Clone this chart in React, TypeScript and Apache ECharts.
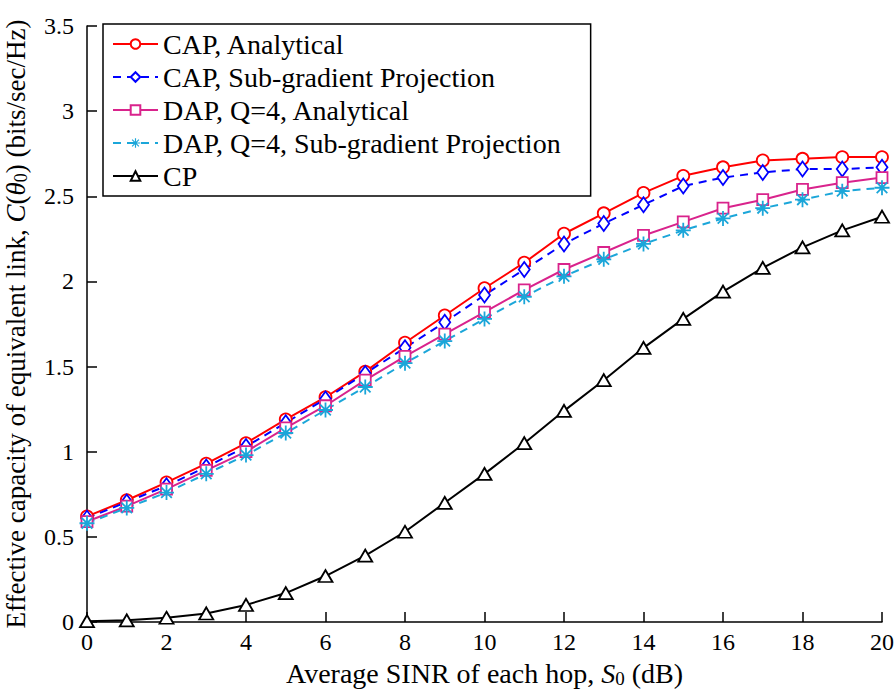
import React, { useEffect, useRef } from "react";
import * as echarts from "echarts";

const snr = [0, 1, 2, 3, 4, 5, 6, 7, 8, 9, 10, 11, 12, 13, 14, 15, 16, 17, 18, 19, 20];
const capAnalytical = [0.62, 0.715, 0.82, 0.93, 1.05, 1.19, 1.32, 1.47, 1.64, 1.80, 1.96, 2.11, 2.28, 2.40, 2.52, 2.62, 2.67, 2.71, 2.72, 2.73, 2.73];
const capSubgradient = [0.61, 0.705, 0.80, 0.91, 1.03, 1.17, 1.31, 1.46, 1.61, 1.76, 1.92, 2.07, 2.22, 2.34, 2.45, 2.56, 2.61, 2.64, 2.66, 2.66, 2.67];
const dapAnalytical = [0.59, 0.68, 0.78, 0.89, 1.00, 1.14, 1.27, 1.42, 1.56, 1.69, 1.82, 1.95, 2.07, 2.17, 2.27, 2.35, 2.43, 2.48, 2.54, 2.58, 2.61];
const dapSubgradient = [0.58, 0.67, 0.76, 0.87, 0.98, 1.11, 1.245, 1.38, 1.52, 1.65, 1.78, 1.91, 2.03, 2.13, 2.22, 2.30, 2.37, 2.43, 2.48, 2.53, 2.55];
const cp = [0.005, 0.01, 0.025, 0.05, 0.10, 0.17, 0.27, 0.39, 0.53, 0.70, 0.87, 1.05, 1.24, 1.42, 1.61, 1.78, 1.94, 2.08, 2.20, 2.30, 2.38];

const seriesNames = [
  "CAP, Analytical",
  "CAP, Sub-gradient Projection",
  "DAP, Q=4, Analytical",
  "DAP, Q=4, Sub-gradient Projection",
  "CP",
];

const FONT = "Liberation Serif";
const ASTERISK =
  "path://M8.8,0 L11.2,0 L11.2,20 L8.8,20 Z M20,8.8 L20,11.2 L0,11.2 L0,8.8 Z " +
  "M3.78,2.08 L17.92,16.22 L16.22,17.92 L2.08,3.78 Z M2.08,16.22 L16.22,2.08 L17.92,3.78 L3.78,17.92 Z";

const pairs = (ys: number[]) => snr.map((x, i) => [x, ys[i]]);

export default function App() {
  const ref = useRef<HTMLDivElement>(null);
  useEffect(() => {
    if (!ref.current) return;
    const chart = echarts.init(ref.current, undefined, { renderer: "svg" });
    const mk = (
      name: string,
      data: number[],
      color: string,
      dashed: boolean,
      symbol: string,
      symbolSize: number | number[],
      filled = false
    ) => ({
      name,
      type: "line",
      data: pairs(data),
      symbol,
      symbolSize,
      showAllSymbol: true,
      lineStyle: { color, width: 2, type: dashed ? [8, 6] : "solid" },
      itemStyle: filled
        ? { color, borderWidth: 0 }
        : { color: "#ffffff", borderColor: color, borderWidth: 1.8 },
      emphasis: { disabled: true },
    });
    const nameStyle = (size: number) => ({
      fontFamily: FONT,
      fontSize: size,
      color: "#000000",
      rich: {
        i: { fontFamily: FONT, fontSize: size, fontStyle: "italic", color: "#000000" },
        s: { fontFamily: FONT, fontSize: Math.round(size * 0.68), color: "#000000", padding: [10, 0, 0, 0] },
      },
    });
    chart.setOption({
      animation: false,
      backgroundColor: "#ffffff",
      textStyle: { fontFamily: FONT },
      grid: { left: 87, right: 13, top: 26, bottom: 71, containLabel: false, outerBoundsMode: "none" },
      legend: {
        orient: "vertical",
        left: 103,
        top: 24,
        itemWidth: 45,
        itemHeight: 12,
        itemGap: 5,
        padding: [6, 30, 6, 9],
        borderColor: "#000000",
        borderWidth: 1.5,
        backgroundColor: "#ffffff",
        textStyle: { fontFamily: FONT, fontSize: 28, color: "#000000" },
        data: seriesNames,
      },
      xAxis: {
        type: "value",
        min: 0,
        max: 20,
        interval: 2,
        name: "Average SINR of each hop, {i|S}{s|0} (dB)",
        nameLocation: "middle",
        nameGap: 37,
        nameTextStyle: nameStyle(28),
        axisLine: { lineStyle: { color: "#000000", width: 1.5 } },
        axisTick: { inside: true, length: 10, lineStyle: { color: "#000000", width: 1.5 } },
        axisLabel: { fontFamily: FONT, fontSize: 24, color: "#000000", margin: 8 },
        splitLine: { show: false },
      },
      yAxis: {
        type: "value",
        min: 0,
        max: 3.5,
        interval: 0.5,
        name: "Effective capacity of equivalent link, {i|C}({i|θ}{s|0}) (bits/sec/Hz)",
        nameLocation: "middle",
        nameGap: 57,
        nameTextStyle: nameStyle(27),
        axisLine: { show: true, lineStyle: { color: "#000000", width: 1.5 } },
        axisTick: { show: true, inside: true, length: 10, lineStyle: { color: "#000000", width: 1.5 } },
        axisLabel: { fontFamily: FONT, fontSize: 24, color: "#000000", margin: 13 },
        splitLine: { show: false },
      },
      series: [
        mk(seriesNames[0], capAnalytical, "#ff0000", false, "circle", 12),
        mk(seriesNames[1], capSubgradient, "#0000ff", true, "diamond", [11, 15]),
        mk(seriesNames[2], dapAnalytical, "#d9238c", false, "rect", 11),
        mk(seriesNames[3], dapSubgradient, "#1ba6d9", true, ASTERISK, 15, true),
        mk(seriesNames[4], cp, "#000000", false, "triangle", [14, 12]),
      ],
    });
    return () => chart.dispose();
  }, []);
  return <div ref={ref} style={{ width: 895, height: 693, position: "absolute", left: 0, top: 0 }} />;
}
